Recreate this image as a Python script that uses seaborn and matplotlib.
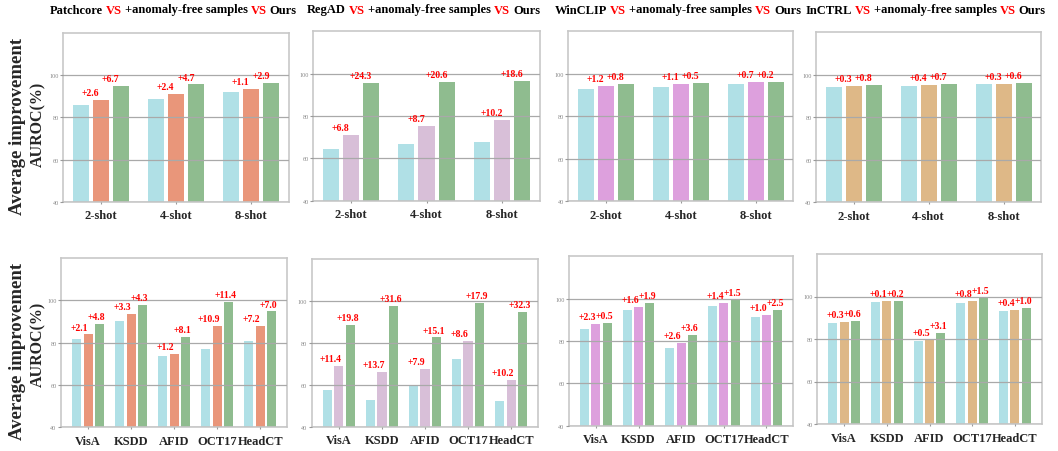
import matplotlib
matplotlib.use("Agg")
import matplotlib.pyplot as plt
import seaborn as sns
import pandas as pd
from matplotlib.offsetbox import TextArea, HPacker, AnchoredOffsetbox

# ---------------- data ----------------
methods = ["Patchcore", "RegAD", "WinCLIP", "InCTRL"]
shots = ["2-shot", "4-shot", "8-shot"]
datasets = ["VisA", "KSDD", "AFID", "OCT17", "HeadCT"]
series = ["Baseline", "+anomaly-free samples", "Ours"]

patchcore_shot_base = [85.8, 88.5, 92.2]
patchcore_shot_free = [88.4, 90.9, 93.3]
patchcore_shot_ours = [95.1, 95.6, 96.2]
patchcore_shot_gain_free = ["+2.6", "+2.4", "+1.1"]
patchcore_shot_gain_ours = ["+6.7", "+4.7", "+2.9"]

regad_shot_base = [64.3, 66.8, 67.8]
regad_shot_free = [71.1, 75.5, 78.0]
regad_shot_ours = [95.4, 96.1, 96.6]
regad_shot_gain_free = ["+6.8", "+8.7", "+10.2"]
regad_shot_gain_ours = ["+24.3", "+20.6", "+18.6"]

winclip_shot_base = [93.0, 94.0, 95.3]
winclip_shot_free = [94.2, 95.1, 96.0]
winclip_shot_ours = [95.0, 95.6, 96.2]
winclip_shot_gain_free = ["+1.2", "+1.1", "+0.7"]
winclip_shot_gain_ours = ["+0.8", "+0.5", "+0.2"]

inctrl_shot_base = [94.2, 94.6, 95.4]
inctrl_shot_free = [94.5, 95.0, 95.7]
inctrl_shot_ours = [95.3, 95.7, 96.3]
inctrl_shot_gain_free = ["+0.3", "+0.4", "+0.3"]
inctrl_shot_gain_ours = ["+0.8", "+0.7", "+0.6"]

patchcore_ds_base = [81.8, 90.2, 73.5, 76.9, 80.6]
patchcore_ds_free = [83.9, 93.5, 74.7, 87.8, 87.8]
patchcore_ds_ours = [88.7, 97.8, 82.8, 99.2, 94.8]
patchcore_ds_gain_free = ["+2.1", "+3.3", "+1.2", "+10.9", "+7.2"]
patchcore_ds_gain_ours = ["+4.8", "+4.3", "+8.1", "+11.4", "+7.0"]

regad_ds_base = [57.4, 52.5, 59.6, 72.5, 52.3]
regad_ds_free = [68.8, 66.2, 67.5, 81.1, 62.5]
regad_ds_ours = [88.6, 97.8, 82.6, 99.0, 94.8]
regad_ds_gain_free = ["+11.4", "+13.7", "+7.9", "+8.6", "+10.2"]
regad_ds_gain_ours = ["+19.8", "+31.6", "+15.1", "+17.9", "+32.3"]

winclip_ds_base = [85.9, 94.5, 76.6, 96.4, 91.3]
winclip_ds_free = [88.2, 96.1, 79.2, 97.8, 92.3]
winclip_ds_ours = [88.7, 98.0, 82.8, 99.3, 94.8]
winclip_ds_gain_free = ["+2.3", "+1.6", "+2.6", "+1.4", "+1.0"]
winclip_ds_gain_ours = ["+0.5", "+1.9", "+3.6", "+1.5", "+2.5"]

inctrl_ds_base = [87.7, 97.6, 79.1, 96.9, 93.2]
inctrl_ds_free = [88.0, 97.7, 79.6, 97.7, 93.6]
inctrl_ds_ours = [88.6, 97.9, 82.7, 99.2, 94.6]
inctrl_ds_gain_free = ["+0.3", "+0.1", "+0.5", "+0.8", "+0.4"]
inctrl_ds_gain_ours = ["+0.6", "+0.2", "+3.1", "+1.5", "+1.0"]

# ---------------- style ----------------
sns.set_style("white")
plt.rcParams["font.family"] = ["Liberation Serif", "DejaVu Serif"]

c_base = "#B0E0E6"
c_ours = "#8FBC8F"
c_mid = {"Patchcore": "#E9967A", "RegAD": "#D8BFD8",
         "WinCLIP": "#DDA0DD", "InCTRL": "#DEB887"}

W, H = 1058, 452
fig = plt.figure(figsize=(W / 100, H / 100), dpi=100)

def px_box(x0, x1, y0, y1):
    return [x0 / W, 1 - y1 / H, (x1 - x0) / W, (y1 - y0) / H]

top_boxes = [(63.3, 289, 34, 202.7), (313.3, 539.7, 32.3, 201.7),
             (568.3, 793.3, 32.3, 202.3), (816, 1041, 33.3, 203)]
bot_boxes = [(61, 287.3, 259.3, 428), (311.7, 538.3, 260, 427.7),
             (569, 793.3, 257.3, 426.7), (817.3, 1041.7, 255, 425)]

top_data = [
    (patchcore_shot_base, patchcore_shot_free, patchcore_shot_ours, patchcore_shot_gain_free, patchcore_shot_gain_ours),
    (regad_shot_base, regad_shot_free, regad_shot_ours, regad_shot_gain_free, regad_shot_gain_ours),
    (winclip_shot_base, winclip_shot_free, winclip_shot_ours, winclip_shot_gain_free, winclip_shot_gain_ours),
    (inctrl_shot_base, inctrl_shot_free, inctrl_shot_ours, inctrl_shot_gain_free, inctrl_shot_gain_ours),
]
bot_data = [
    (patchcore_ds_base, patchcore_ds_free, patchcore_ds_ours, patchcore_ds_gain_free, patchcore_ds_gain_ours),
    (regad_ds_base, regad_ds_free, regad_ds_ours, regad_ds_gain_free, regad_ds_gain_ours),
    (winclip_ds_base, winclip_ds_free, winclip_ds_ours, winclip_ds_gain_free, winclip_ds_gain_ours),
    (inctrl_ds_base, inctrl_ds_free, inctrl_ds_ours, inctrl_ds_gain_free, inctrl_ds_gain_ours),
]


def draw_panel(box, cats, vals, method, xlim, offs):
    base, free, ours, g1, g2 = vals
    ax = fig.add_axes(px_box(*box))
    df = pd.DataFrame({
        "cat": cats * 3,
        "series": [series[0]] * len(cats) + [series[1]] * len(cats) + [series[2]] * len(cats),
        "value": list(base) + list(free) + list(ours),
    })
    sns.barplot(data=df, x="cat", y="value", hue="series", order=cats,
                hue_order=series, palette=[c_base, c_mid[method], c_ours],
                saturation=1, width=0.8, gap=0.2, legend=False, ax=ax,
                edgecolor="none", err_kws={"linewidth": 0})
    for i in range(len(cats)):
        ax.text(i + offs[0], free[i] + 3.5, g1[i], color="red", fontsize=7,
                fontweight="bold", ha="center", va="center", zorder=5)
        ax.text(i + offs[1], ours[i] + 3.5, g2[i], color="red", fontsize=7,
                fontweight="bold", ha="center", va="center", zorder=5)
    ax.set_ylim(40, 120)
    ax.set_xlim(*xlim)
    ax.set_yticks([40, 60, 80, 100])
    ax.set_xlabel("")
    ax.set_ylabel("")
    ax.set_axisbelow(False)
    ax.yaxis.grid(True, color="#a9a9a9", linewidth=0.9)
    ax.xaxis.grid(False)
    for s in ax.spines.values():
        s.set_color("#c8c8c8")
        s.set_linewidth(1.2)
    ax.tick_params(axis="y", length=2.2, width=0.8, color="#999999",
                   labelsize=4.5, labelcolor="#888888", pad=1, left=True)
    ax.tick_params(axis="x", length=1.5, width=0.8, color="#999999",
                   labelsize=9, pad=4, bottom=True)
    for lab in ax.get_xticklabels():
        lab.set_fontweight("bold")
    return ax


for k, m in enumerate(methods):
    draw_panel(top_boxes[k], shots, top_data[k], m, (-0.5, 2.5), (-0.14, 0.13))
    draw_panel(bot_boxes[k], datasets, bot_data[k], m, (-0.63, 4.63), (-0.2, 0.2))

# titles with red "VS"
for k, m in enumerate(methods):
    x0, x1, _, _ = top_boxes[k]
    cx = ((x0 + x1) / 2 - 3) / W
    tp = dict(fontsize=9, fontweight="bold", color="black")
    tr = dict(fontsize=9, fontweight="bold", color="red")
    parts = [TextArea(m, textprops=tp), TextArea("VS", textprops=tr),
             TextArea("+anomaly-free samples", textprops=tp),
             TextArea("VS", textprops=tr), TextArea("Ours", textprops=tp)]
    box = HPacker(children=parts, align="baseline", pad=0, sep=2.2)
    anchored = AnchoredOffsetbox(loc="center", child=box, pad=0, borderpad=0,
                                 frameon=False, bbox_to_anchor=(cx, 1 - 10.5 / H),
                                 bbox_transform=fig.transFigure)
    fig.add_artist(anchored)

# row y-labels
for yc1, yc2 in [(126, 124.6), (351.5, 344.5)]:
    fig.text(18 / W, 1 - yc1 / H, "Average improvement", rotation=90,
             fontsize=13.5, fontweight="bold", ha="center", va="center")
    fig.text(38 / W, 1 - yc2 / H, "AUROC(%)", rotation=90,
             fontsize=11.5, fontweight="bold", ha="center", va="center")

fig.savefig("out.png", dpi=100)
